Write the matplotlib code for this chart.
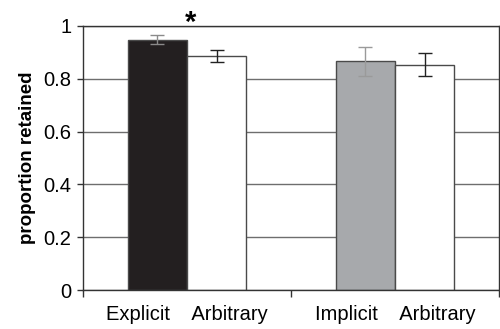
import matplotlib
matplotlib.use("Agg")
import matplotlib.pyplot as plt
import numpy as np

plt.rcParams["font.family"] = ["Liberation Sans", "DejaVu Sans"]

# Retention by condition, two groups of paired bars
groups = ["Explicit    Arbitrary", "Implicit    Arbitrary"]
first_vals = [0.947, 0.866]
first_err = [0.017, 0.056]
second_vals = [0.886, 0.853]
second_err = [0.023, 0.043]
first_colors = ["#231f20", "#a7a9ac"]
first_err_colors = ["#8a8a8a", "#9a9a9a"]
yticks = [0, 0.2, 0.4, 0.6, 0.8, 1]
ytick_labels = ["0", "0.2", "0.4", "0.6", "0.8", "1"]

fig = plt.figure(figsize=(5.0, 3.29), dpi=100)
ax = fig.add_axes([0.166, 0.1185, 0.832, 0.8025])

x = np.arange(len(groups))
w = 0.284
edge = "#4a4a4a"

ax.bar(x - w / 2, first_vals, w, color=first_colors, edgecolor=edge,
       linewidth=1.0, zorder=2)
ax.bar(x + w / 2, second_vals, w, color="white", edgecolor=edge,
       linewidth=1.0, zorder=2)
for i in range(len(groups)):
    ax.errorbar(x[i] - w / 2, first_vals[i], yerr=first_err[i], fmt="none",
                ecolor=first_err_colors[i], elinewidth=1.0, capsize=4.7,
                capthick=1.0, zorder=3)
    ax.errorbar(x[i] + w / 2, second_vals[i], yerr=second_err[i], fmt="none",
                ecolor="#222222", elinewidth=1.0, capsize=4.7,
                capthick=1.0, zorder=3)

ax.set_xlim(-0.5, len(groups) - 0.5)
ax.set_ylim(0, 1)
ax.set_yticks(yticks)
ax.set_yticklabels(ytick_labels)
ax.yaxis.grid(True, color="#6e6e6e", linewidth=1.0, zorder=0)
ax.set_axisbelow(True)

# category boundaries get the tick marks, labels sit at the group centres
ax.set_xticks(np.arange(len(groups) + 1) - 0.5)
ax.set_xticklabels([])
ax.set_xticks(x, minor=True)
ax.set_xticklabels(groups, minor=True)
ax.tick_params(axis="x", which="major", direction="out", length=5,
               width=1.0, color="#333333")
ax.tick_params(axis="x", which="minor", length=0, pad=11, labelsize=14.5)
ax.tick_params(axis="y", direction="out", length=4.5, width=1.0,
               color="#333333", pad=4, labelsize=14.5)

for s in ax.spines.values():
    s.set_color("#333333")
    s.set_linewidth(1.0)

ax.set_ylabel("proportion retained", fontsize=13.5, fontweight="bold",
              labelpad=5)

ax.text(x[0] + 0.015, 1.012, "*", ha="center", va="center", fontsize=21,
        fontweight="bold", transform=ax.transData, clip_on=False)

fig.savefig("out.png", dpi=100)
